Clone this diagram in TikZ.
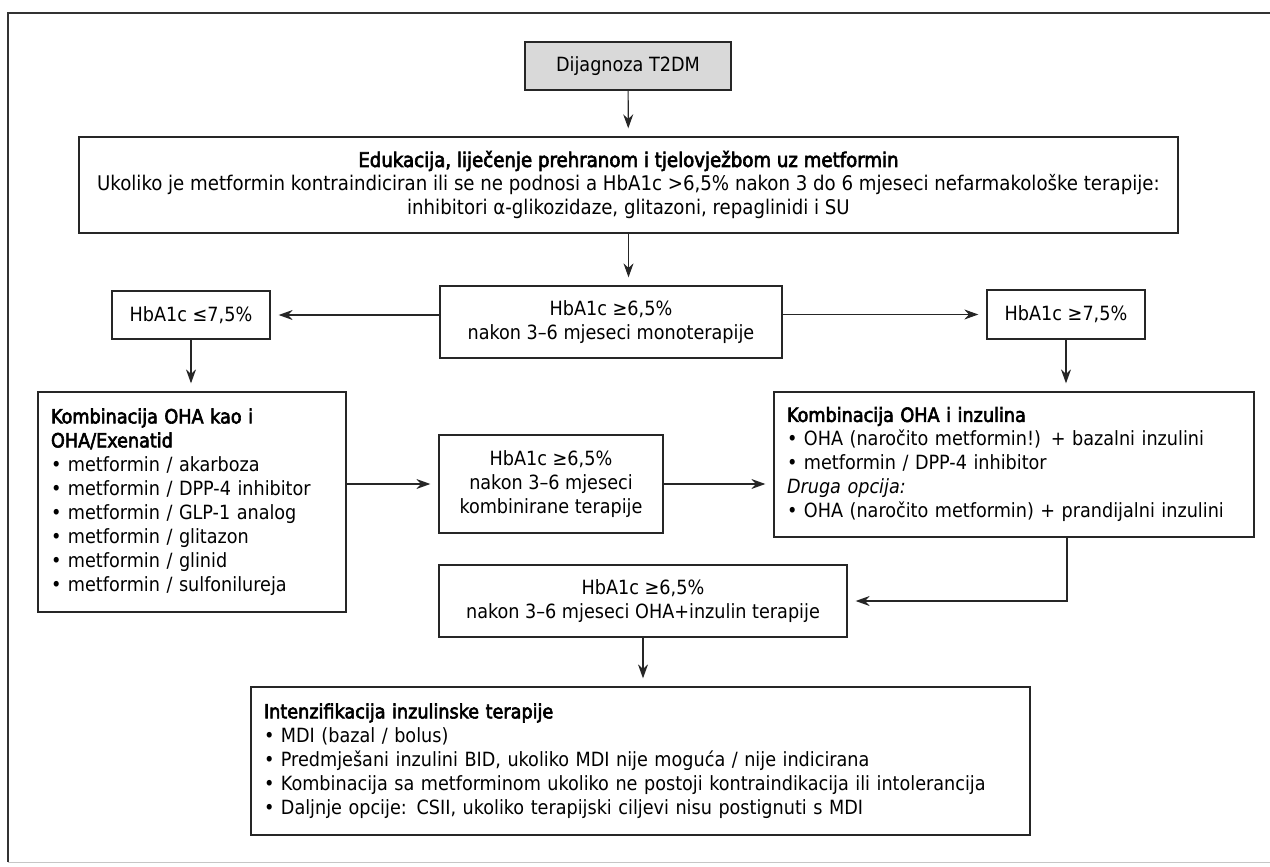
\documentclass[tikz,border=0pt]{standalone}
\usepackage{fontspec}
\setmainfont{DejaVu Sans Condensed}
\newfontfamily\headfont[FakeBold=3]{DejaVu Sans Condensed}
\usetikzlibrary{arrows.meta}
\begin{document}
\begin{tikzpicture}[x=1pt,y=-1pt,
  box/.style={draw=black!85, line width=1.3pt, inner sep=0pt, align=center,
    font=\fontsize{19.6}{24}\selectfont},
  listbox/.style={box, align=left, inner xsep=13pt},
  link/.style={draw=black!85, line width=1.2pt, -{Stealth[length=14pt,width=10pt]}, shorten >=8pt},
  frame/.style={draw=black!80, line width=1.4pt}]
\useasboundingbox (0,0) rectangle (1270,867);
% page frame
\draw[frame] (8,862) -- (8,13) -- (1270,13);
\draw[gray!45, line width=1pt] (8,862) -- (1270,862);

% boxes
\node[box, fill=gray!30, minimum width=206pt, minimum height=48pt] (diag) at (628,66) {Dijagnoza T2DM};
\node[box, minimum width=1099pt, minimum height=96pt, font=\fontsize{20.2}{24}\selectfont] (edu) at (628.5,185)
  {{\headfont Edukacija, liječenje prehranom i tjelovježbom uz metformin}\\
   Ukoliko je metformin kontraindiciran ili se ne podnosi a HbA1c >6,5\% nakon 3 do 6 mjeseci nefarmakološke terapije:\\
   inhibitori α-glikozidaze, glitazoni, repaglinidi i SU};
\node[box, minimum width=342pt, minimum height=72pt] (mono) at (611,322)
  {HbA1c ≥6,5\%\\nakon 3–6 mjeseci monoterapije};
\node[box, minimum width=158pt, minimum height=48pt] (left) at (191,315) {HbA1c ≤7,5\%};
\node[box, minimum width=158pt, minimum height=49pt] (right) at (1066,314.5) {HbA1c ≥7,5\%};
\node[listbox, text width=282pt, minimum height=220pt] (kombL) at (192,502)
  {{\headfont Kombinacija OHA kao i}\\
   {\headfont OHA/Exenatid}\\
   • metformin / akarboza\\
   • metformin / DPP-4 inhibitor\\
   • metformin / GLP-1 analog\\
   • metformin / glitazon\\
   • metformin / glinid\\
   • metformin / sulfonilureja};
\node[box, minimum width=224pt, minimum height=98pt] (comb) at (551,484)
  {HbA1c ≥6,5\%\\nakon 3–6 mjeseci\\kombinirane terapije};
\node[listbox, text width=454pt, minimum height=145pt] (kombR) at (1014,464.5)
  {{\headfont Kombinacija OHA i inzulina}\\
   • OHA (naročito metformin!) + bazalni inzulini\\
   • metformin / DPP-4 inhibitor\\
   {\itshape Druga opcija:}\\
   • OHA (naročito metformin) + prandijalni inzulini};
\node[box, minimum width=408pt, minimum height=72pt] (ohains) at (643,601)
  {HbA1c ≥6,5\%\\nakon 3–6 mjeseci OHA+inzulin terapije};
\node[listbox, text width=753pt, minimum height=148pt] (intenz) at (640.5,761)
  {{\headfont Intenzifikacija inzulinske terapije}\\
   • MDI (bazal / bolus)\\
   • Predmješani inzulini BID, ukoliko MDI nije moguća / nije indicirana\\
   • Kombinacija sa metforminom ukoliko ne postoji kontraindikacija ili intolerancija\\
   • Daljnje opcije: CSII, ukoliko terapijski ciljevi nisu postignuti s MDI};

% connectors
\coordinate (turn) at (1067,601);
\draw[link] (diag) -- (edu);
\draw[link] (edu.south) -- (edu.south |- mono.north);
\draw[link] (mono.west |- left.east) -- (left.east);
\draw[link] (mono.east |- right.west) -- (right.west);
\draw[link] (left.south) -- (left.south |- kombL.north);
\draw[link] (right.south) -- (right.south |- kombR.north);
\draw[link] (kombL.east |- comb.west) -- (comb.west);
\draw[link] (comb.east) -- (comb.east -| kombR.west);
\draw[link] (kombR.south -| turn) -- (turn) -- (ohains.east);
\draw[link] (ohains.south) -- (ohains.south |- intenz.north);
\end{tikzpicture}
\end{document}
